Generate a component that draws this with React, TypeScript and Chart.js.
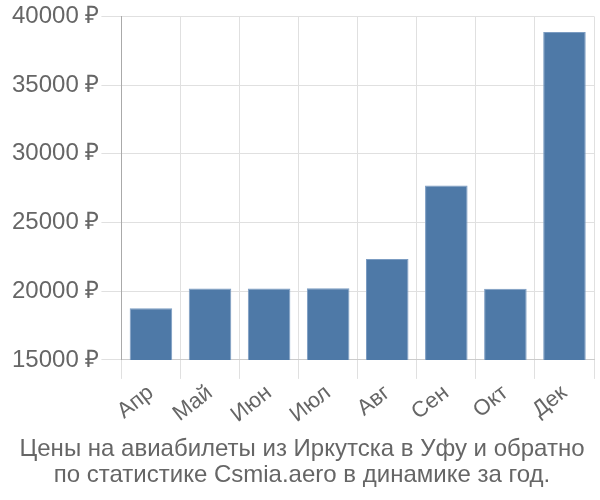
import React, { useEffect, useRef } from "react";
import { Chart, registerables } from "chart.js";

Chart.register(...registerables);

const months = ["Апр", "Май", "Июн", "Июл", "Авг", "Сен", "Окт", "Дек"];
const prices = [18750, 20200, 20200, 20220, 22340, 27700, 20180, 38860];
const titleLines = [
  "Цены на авиабилеты из Иркутска в Уфу и обратно",
  "по статистике Csmia.aero в динамике за год.",
];
const FONT = "'Liberation Sans', Arial, sans-serif";

export default function App() {
  const ref = useRef<HTMLCanvasElement | null>(null);
  useEffect(() => {
    if (!ref.current) return;
    const chart = new Chart(ref.current, {
      type: "bar",
      data: {
        labels: months,
        datasets: [
          {
            data: prices,
            backgroundColor: "#4e79a7",
            borderColor: "#7b9cc2",
            borderWidth: 1,
            categoryPercentage: 0.8,
            barPercentage: 0.9,
          },
        ],
      },
      options: {
        responsive: true,
        maintainAspectRatio: false,
        animation: false,
        layout: { padding: { right: 6, top: 4, left: 10, bottom: 4 } },
        plugins: {
          legend: { display: false },
          tooltip: { enabled: false },
          title: {
            display: true,
            position: "bottom",
            text: titleLines,
            color: "#666",
            font: { family: FONT, size: 24, weight: "normal", lineHeight: 1.1 },
            padding: { top: 7, bottom: 7 },
          },
        },
        scales: {
          x: {
            grid: { color: "#e0e0e0", tickLength: 19, offset: true },
            border: { color: "#ccc" },
            ticks: {
              color: "#666",
              padding: 1,
              font: { family: FONT, size: 22 },
              maxRotation: 38,
              minRotation: 38,
            },
          },
          y: {
            min: 15000,
            max: 40000,
            grid: { color: "#e0e0e0", tickLength: 20 },
            border: { color: "#aaa" },
            ticks: {
              stepSize: 5000,
              color: "#666",
              padding: 2,
              font: { family: FONT, size: 24 },
              callback: (v: any) => v + " ₽",
            },
          },
        },
      },
    });
    return () => chart.destroy();
  }, []);
  return (
    <div style={{ position: "fixed", left: 0, top: 0, width: 600, height: 500 }}>
      <canvas ref={ref} />
    </div>
  );
}
